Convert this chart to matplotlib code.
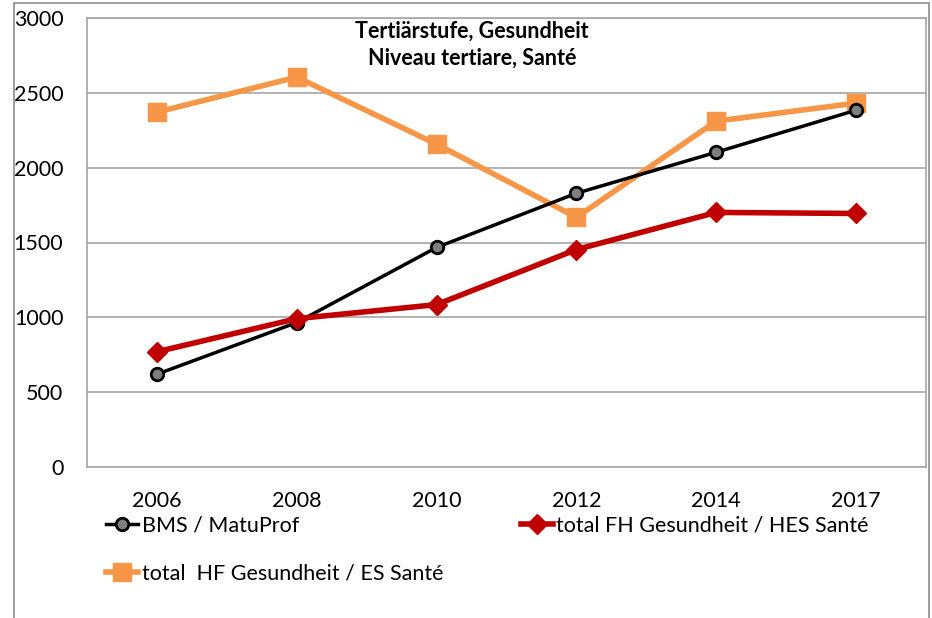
import matplotlib
matplotlib.use("Agg")
import matplotlib.pyplot as plt
from matplotlib.patches import Rectangle

years = ["2006", "2008", "2010", "2012", "2014", "2017"]
bms = [620, 965, 1467, 1829, 2103, 2384]
fh = [770, 991, 1085, 1453, 1701, 1694]
hf = [2371, 2605, 2157, 1668, 2311, 2431]
yticks = [0, 500, 1000, 1500, 2000, 2500, 3000]

plt.rcParams['font.family'] = ['Lato', 'DejaVu Sans']

W, H = 932, 618
fig = plt.figure(figsize=(W/100, H/100), dpi=100)
fig.patches.append(Rectangle((14/W, -0.1), (929-14)/W, (H-3)/H + 0.1, transform=fig.transFigure,
                             fill=False, edgecolor='#8c8c8c', linewidth=1.2, zorder=0))

ax = fig.add_axes([87/W, (H-467)/H, (926-87)/W, (467-18)/H])
x = list(range(len(years)))
ax.plot(x, hf, color='#F79646', lw=4, marker='s', ms=13, mfc='#F79646', mec='#F79646',
        label='total  HF Gesundheit / ES Santé', zorder=3)
ax.plot(x, bms, color='black', lw=2.5, marker='o', ms=9, mfc='#7f7f7f', mec='black', mew=2,
        label='BMS / MatuProf', zorder=4)
ax.plot(x, fh, color='#C00000', lw=4, marker='D', ms=10, mfc='#C00000', mec='#C00000',
        label='total FH Gesundheit / HES Santé', zorder=5)

ax.set_xlim(-0.5, len(years) - 0.5)
ax.set_ylim(0, 3000)
ax.set_yticks(yticks)
ax.set_yticklabels([str(v) for v in yticks], fontsize=15.5)
ax.set_xticks(x)
ax.set_xticklabels(years, fontsize=15.5)
ax.tick_params(axis='both', length=0, colors='black')
ax.tick_params(axis='y', pad=17)
ax.tick_params(axis='x', pad=17)
ax.grid(axis='y', color='#a6a6a6', lw=1.2)
ax.set_axisbelow(True)
for s in ax.spines.values():
    s.set_color('#a6a6a6')
    s.set_linewidth(1.2)

ax.text(0.459, 0.993, 'Tertiärstufe, Gesundheit\nNiveau tertiare, Santé', transform=ax.transAxes,
        ha='center', va='top', fontsize=15.5, fontweight='bold', linespacing=1.3)

h, l = ax.get_legend_handles_labels()
order = [1, 0, 2]
leg = fig.legend([h[i] for i in order], [l[i] for i in order], ncol=2,
                 loc='upper left', bbox_to_anchor=(106/W, 1 - 516/H), frameon=False,
                 fontsize=15.5, handlelength=1.5, handletextpad=0.15, columnspacing=3.6,
                 labelspacing=1.3, borderaxespad=0, borderpad=0)
fig.savefig('out.png', dpi=100)
